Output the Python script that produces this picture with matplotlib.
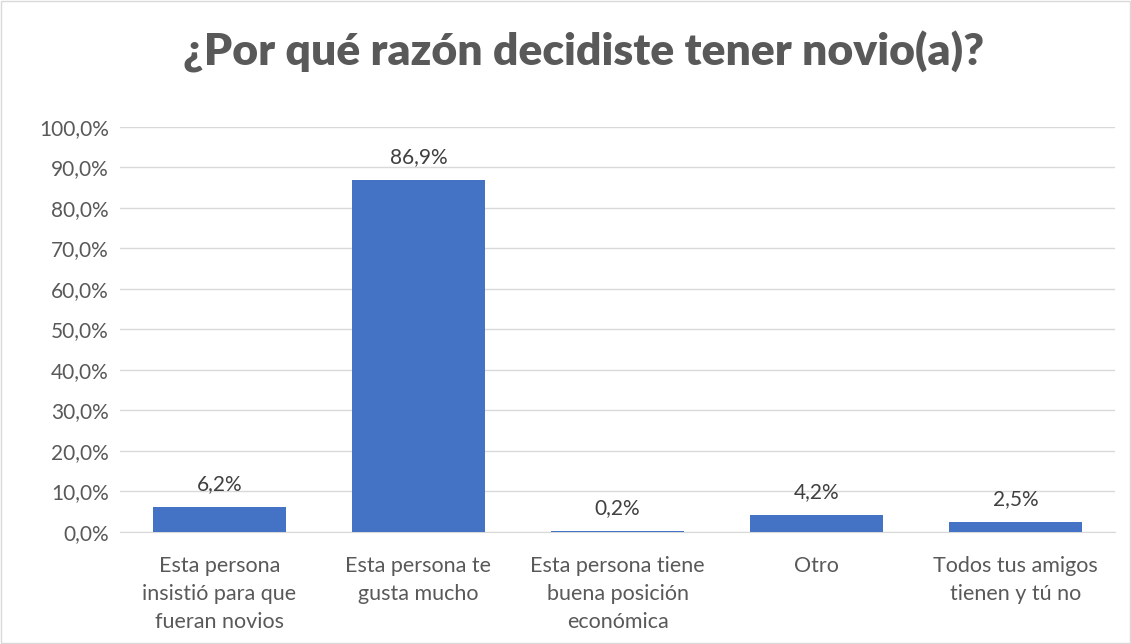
import matplotlib.pyplot as plt
from matplotlib.patches import Rectangle
from matplotlib.ticker import FuncFormatter

categories = [
    "Esta persona\ninsistió para que\nfueran novios",
    "Esta persona te\ngusta mucho",
    "Esta persona tiene\nbuena posición\neconómica",
    "Otro",
    "Todos tus amigos\ntienen y tú no",
]
values = [6.2, 86.9, 0.2, 4.2, 2.5]
yticks = [0, 10, 20, 30, 40, 50, 60, 70, 80, 90, 100]

plt.rcParams["font.family"] = ["Lato", "DejaVu Sans"]
gray = "#595959"

fig = plt.figure(figsize=(11.31, 6.44), dpi=100)
fig.patches.append(Rectangle((0.001, 0.001), 0.998, 0.998, transform=fig.transFigure,
                             fill=False, edgecolor="#d9d9d9", linewidth=1))
ax = fig.add_axes([0.106, 0.174, 0.880, 0.629])

x = range(len(categories))
ax.bar(x, values, width=0.67, color="#4472c4", zorder=3)
for xi, v in zip(x, values):
    ax.text(xi, v + 3.2, f"{v:.1f}%".replace(".", ","), ha="center", va="bottom",
            fontsize=15, color="#404040")

ax.set_xlim(-0.5, len(categories) - 0.5)
ax.set_ylim(0, 100)
ax.set_yticks(yticks)
ax.yaxis.set_major_formatter(FuncFormatter(lambda v, p: f"{v:.1f}%".replace(".", ",")))
ax.set_xticks(list(x))
ax.set_xticklabels(categories, fontsize=15.5, color=gray, linespacing=1.5)
ax.tick_params(axis="y", labelsize=15, labelcolor=gray, length=0, pad=8)
ax.tick_params(axis="x", length=0, pad=17)
ax.grid(axis="y", color="#d9d9d9", linewidth=1, zorder=0)
for s in ["top", "right", "left"]:
    ax.spines[s].set_visible(False)
ax.spines["bottom"].set_color("#d9d9d9")

fig.text(0.516, 0.919, "¿Por qué razón decidiste tener novio(a)?", ha="center", va="center",
         fontsize=32, fontweight="heavy", color=gray)

fig.savefig("out.png", dpi=100)
